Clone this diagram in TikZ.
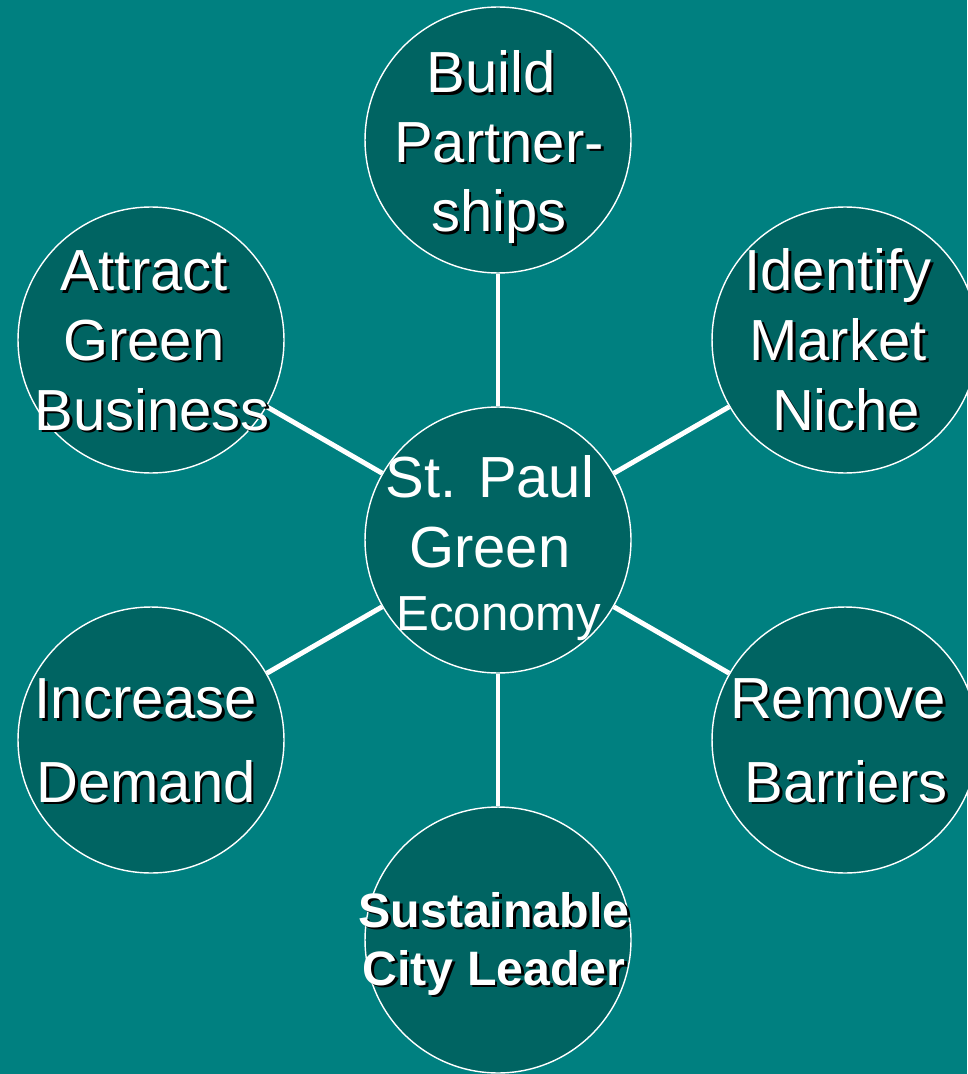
\documentclass[tikz,border=0pt]{standalone}
\usepackage{fontspec}
\setmainfont{Liberation Sans}

\definecolor{sea}{HTML}{008080}
\definecolor{deepsea}{HTML}{006462}

% white text with a dark drop shadow
\newcommand{\shadowed}[1]{\rlap{\kern1.5pt\raisebox{-1.5pt}{\color{black}#1}}#1}
% room of one space, keeps a line off-centre
\newcommand{\pad}{\hbox to .28em{}}

\tikzset{
    goal/.style={circle, draw=white, line width=0.8pt, fill=deepsea,
        minimum size=5.32cm, inner sep=0pt},
    spoke/.style={white, line width=2.8pt},
    caption/.style={text=white, align=center, anchor=base, inner sep=0pt,
        font=\fontsize{33}{39.7}\selectfont},
    wide/.style={font=\fontsize{33}{47.6}\selectfont},
}

\begin{document}
\begin{tikzpicture}[x=0.02cm, y=-0.02cm]
    % background
    \useasboundingbox (0,0) rectangle (967,1074);
    \fill[sea] (0,0) rectangle (967,1074);

    % circles
    \node[goal] (hub) at (498,540) {};
    \node[goal] (build) at (498,140) {};
    \node[goal] (identify) at (845,340) {};
    \node[goal] (remove) at (845,740) {};
    \node[goal] (leader) at (498,940) {};
    \node[goal] (increase) at (151,740) {};
    \node[goal] (attract) at (151,340) {};

    % spokes
    \foreach \g in {build,identify,remove,leader,increase,attract}
        \draw[spoke] (hub) -- (\g);

    % texts (placed at the baseline of their last line)
    \node[caption] (hub-txt) at (498,567) {St. Paul\pad\\Green\pad};
    \node[caption, font=\fontsize{28}{32}\selectfont] (hub-eco) at (499,630) {Economy};
    \node[caption] (build-txt) at (499,232)
        {\shadowed{Build\pad}\\\shadowed{Partner-}\\\shadowed{ships}};
    \node[caption] (identify-txt) at (838,430)
        {\shadowed{Identify}\\\shadowed{Market}\\\shadowed{\pad Niche}};
    \node[caption, wide] (remove-txt) at (838,802)
        {\shadowed{Remove}\\\shadowed{\pad Barriers}};
    \node[caption, font=\bfseries\fontsize{27.5}{32.9}\selectfont] (leader-txt) at (494,985)
        {\shadowed{Sustainable}\\\shadowed{City Leader}};
    \node[caption, wide] (increase-txt) at (146,802)
        {\shadowed{Increase}\\\shadowed{Demand}};
    \node[caption] (attract-txt) at (152,430)
        {\shadowed{Attract\pad}\\\shadowed{Green\pad}\\\shadowed{Business}};
\end{tikzpicture}
\end{document}
